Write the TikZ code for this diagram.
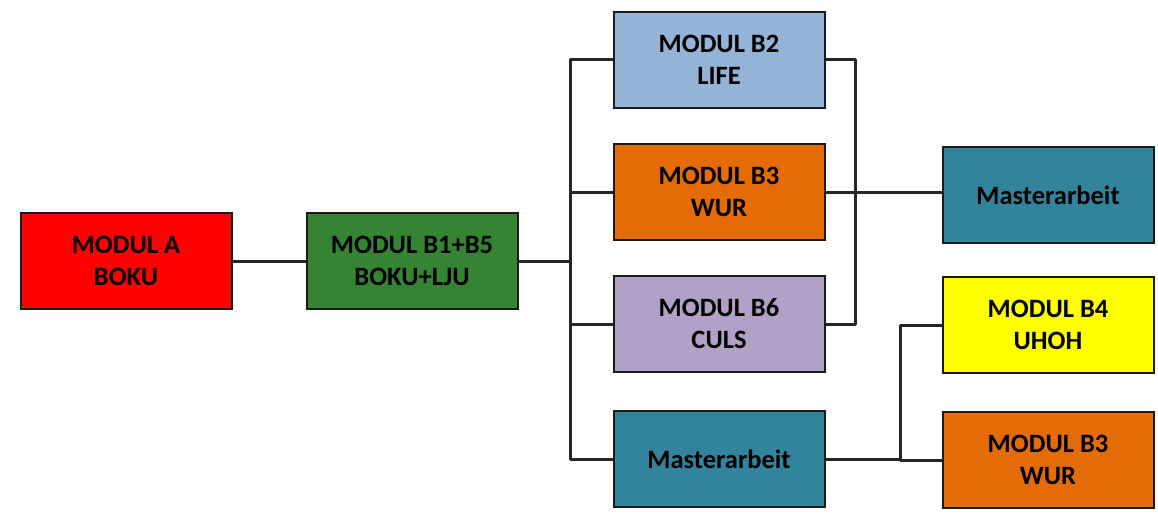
\documentclass[tikz,border=0pt]{standalone}
\usepackage{fontspec}
\setmainfont{Carlito}
\definecolor{cRed}{HTML}{FF0000}
\definecolor{cGreen}{HTML}{348434}
\definecolor{cBlue}{HTML}{95B3D7}
\definecolor{cOrange}{HTML}{E36C09}
\definecolor{cLav}{HTML}{B2A1C7}
\definecolor{cTeal}{HTML}{31849B}
\definecolor{cYellow}{HTML}{FFFF00}
\definecolor{cEdge}{HTML}{1A1A1A}
\begin{document}
\begin{tikzpicture}[x=1pt,y=-1pt,
  box/.style={draw=cEdge, line width=2pt, minimum width=211pt, minimum height=96pt,
    inner sep=0pt, align=center,
    font=\fontsize{26.5pt}{32pt}\selectfont\bfseries, text=black},
  conn/.style={draw=black!85, line width=3pt, line join=round}]
\useasboundingbox (0,0) rectangle (1158,520);
\node[box, fill=cRed]    (A)   at (126,261) {MODUL A\\BOKU};
\node[box, fill=cGreen]  (B15) at (412,261) {MODUL B1+B5\\BOKU+LJU};
\node[box, fill=cBlue]   (B2)  at (719,59.5) {MODUL B2\\LIFE};
\node[box, fill=cOrange] (B3)  at (719,192) {MODUL B3\\WUR};
\node[box, fill=cLav]    (B6)  at (719,324) {MODUL B6\\CULS};
\node[box, fill=cTeal]   (M1)  at (719,459) {Masterarbeit};
\node[box, fill=cTeal]   (M2)  at (1048,195) {Masterarbeit};
\node[box, fill=cYellow] (B4)  at (1048,325) {MODUL B4\\UHOH};
\node[box, fill=cOrange] (B3b) at (1048,460) {MODUL B3\\WUR};
\coordinate (tx) at (570,0);
\coordinate (rx) at (855,0);
\coordinate (bx) at (900,0);
\draw[conn] (A.east) -- (B15.west);
\draw[conn] (B15.east) -- (B15.east -| tx);
\draw[conn] (B2.west) -- (B2.west -| tx) -- (M1.west -| tx) -- (M1.west);
\draw[conn] (B3.west) -- (B3.west -| tx);
\draw[conn] (B6.west) -- (B6.west -| tx);
\draw[conn] (B2.east) -- (B2.east -| rx) -- (B6.east -| rx) -- (B6.east);
\draw[conn] (B3.east) -- (B3.east -| M2.west);
\draw[conn] (B4.west) -- (B4.west -| bx) -- (B3b.west -| bx) -- (B3b.west);
\draw[conn] (M1.east) -- (M1.east -| bx);
\end{tikzpicture}
\end{document}
